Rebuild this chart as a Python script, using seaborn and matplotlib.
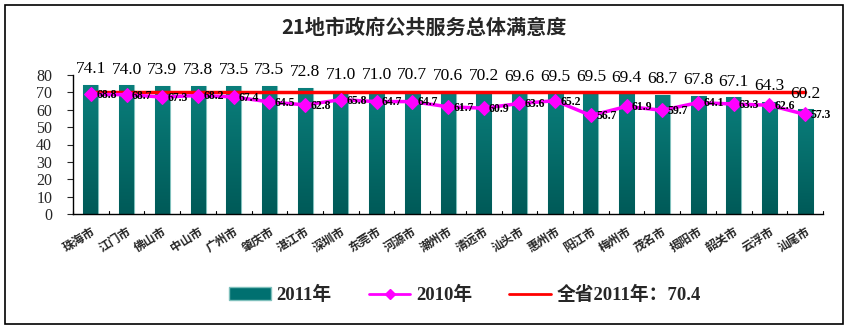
import numpy as np
import pandas as pd
import matplotlib
matplotlib.use("Agg")
import matplotlib.pyplot as plt
import seaborn as sns
from matplotlib.patches import Rectangle, Patch
from matplotlib.lines import Line2D
from matplotlib.colors import LinearSegmentedColormap

cities = ["珠海市", "江门市", "佛山市", "中山市", "广州市", "肇庆市", "湛江市", "深圳市",
          "东莞市", "河源市", "潮州市", "清远市", "汕头市", "惠州市", "阳江市", "梅州市",
          "茂名市", "揭阳市", "韶关市", "云浮市", "汕尾市"]
v2011 = [74.1, 74.0, 73.9, 73.8, 73.5, 73.5, 72.8, 71.0, 71.0, 70.7, 70.6, 70.2,
         69.6, 69.5, 69.5, 69.4, 68.7, 67.8, 67.1, 64.3, 60.2]
v2010 = [68.8, 68.7, 67.3, 68.2, 67.4, 64.5, 62.8, 65.8, 64.7, 64.7, 61.7, 60.9,
         63.6, 65.2, 56.7, 61.9, 59.7, 64.1, 63.3, 62.6, 57.3]
province_avg = 70.4
yticks = [0, 10, 20, 30, 40, 50, 60, 70, 80]

sns.set_theme(style="white")
plt.rcParams['font.family'] = ['Liberation Serif', 'Noto Sans CJK SC', 'DejaVu Sans']
plt.rcParams['axes.unicode_minus'] = False

df = pd.DataFrame({"city": cities, "v2011": v2011, "v2010": v2010,
                   "avg": [province_avg] * len(cities)})

fig = plt.figure(figsize=(8.5, 3.31), dpi=100)
ax = fig.add_axes([73 / 850, 1 - 214 / 331, (823 - 73) / 850, (214 - 75) / 331])

sns.barplot(data=df, x="city", y="v2011", color="#007070", width=0.42,
            edgecolor="#7fc0bc", linewidth=0.8, saturation=1, ax=ax, zorder=2)

grad = np.linspace(0, 1, 256).reshape(-1, 1)
cmap = LinearSegmentedColormap.from_list("tg", ["#005a58", "#0a7e7b"])
for p in ax.patches:
    x0, y0 = p.get_x(), p.get_y()
    w, h = p.get_width(), p.get_height()
    im = ax.imshow(grad, extent=[x0, x0 + w, y0, y0 + h], origin="lower",
                   cmap=cmap, aspect="auto", zorder=2.5)
    im.set_clip_path(p)

xs = np.arange(len(cities))
sns.lineplot(x=xs, y=df["avg"].values, color="#ff0000", linewidth=2.5, ax=ax, zorder=3)
sns.lineplot(x=xs, y=df["v2010"].values, color="#ff00ff", linewidth=2.5, marker="D",
             markersize=7, markeredgecolor="#ff00ff", ax=ax, zorder=4)

for i, v in enumerate(v2011):
    ax.text(i, v + 4.5, f"{v:.1f}", ha="center", va="bottom", fontsize=12.5,
            family=['Liberation Serif'], color="black", zorder=6, clip_on=False)
for i, v in enumerate(v2010):
    ax.text(i + 0.15, v - 0.5, f"{v:.1f}", ha="left", va="center", fontsize=8.5,
            fontweight="bold", family=['Liberation Serif'], color="black", zorder=6)

ax.set_xlim(-0.5, len(cities) - 0.5)
ax.set_ylim(0, 80)
ax.set_yticks(yticks)
ax.set_yticklabels([str(t) for t in yticks], fontsize=11.5, family=['Liberation Serif'])
ax.tick_params(axis="y", direction="out", length=4, width=0.8, pad=11, left=True)
ax.set_xticks(xs)
ax.set_xticklabels(cities, rotation=32, ha="right", rotation_mode="anchor",
                   fontsize=8.5, fontweight="bold", family=['Noto Sans CJK SC'])
ax.tick_params(axis="x", length=0, pad=8)
for b in np.arange(-0.5, len(cities) + 0.5, 1):
    ax.plot([b, b], [0, 1.5], color="black", linewidth=0.8, zorder=5, clip_on=False)
ax.set_xlabel("")
ax.set_ylabel("")
for s in ["top", "right"]:
    ax.spines[s].set_visible(False)
for s in ["left", "bottom"]:
    ax.spines[s].set_color("black")
    ax.spines[s].set_linewidth(1.0)
ax.grid(False)

fig.text(424 / 850, 1 - 27 / 331, "21地市政府公共服务总体满意度", ha="center", va="center",
         fontsize=14.5, fontweight="bold", family=['Noto Sans CJK SC'])

handles = [Patch(facecolor="#007070", edgecolor="#7fc0bc"),
           Line2D([0], [0], color="#ff00ff", linewidth=2, marker="D", markersize=5),
           Line2D([0], [0], color="#ff0000", linewidth=2)]
labels = ["2011年", "2010年", "全省2011年：70.4"]
fig.legend(handles, labels, loc="center", bbox_to_anchor=(465 / 850, 1 - 295 / 331),
           ncol=3, frameon=False, handlelength=2.2, columnspacing=2.0, handletextpad=0.3,
           prop={"family": ['Liberation Serif', 'Noto Sans CJK SC'], "weight": "bold", "size": 13.5})

fig.patches.append(Rectangle((5 / 850, 1 - 324 / 331), (843 - 5) / 850, (324 - 5) / 331,
                             transform=fig.transFigure, fill=False, edgecolor="black",
                             linewidth=1.2))

fig.savefig("out.png", dpi=100)
